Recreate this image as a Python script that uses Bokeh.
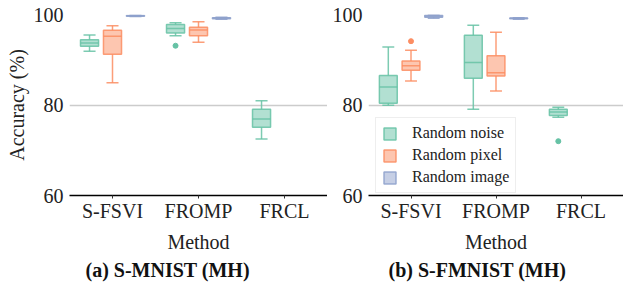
from bokeh.plotting import figure
from bokeh.models import FactorRange, FixedTicker, Range1d, ColumnDataSource, Title
from bokeh.transform import dodge
from bokeh.layouts import row
from bokeh.embed import file_html
from bokeh.resources import INLINE

FONT = "'Liberation Serif', serif"

methods = ["S-FSVI", "FROMP", "FRCL"]
hues = ["Random noise", "Random pixel", "Random image"]
colors = ["#66c2a5", "#fc8d62", "#8da0cb"]
y_ticks = [60, 80, 100]

# ---- panel (a) S-MNIST (MH) ----
a_noise_methods = ["S-FSVI", "FROMP", "FRCL"]
a_noise_lo = [91.9, 95.3, 72.5]
a_noise_q1 = [93.0, 95.9, 75.1]
a_noise_med = [93.7, 96.9, 76.9]
a_noise_q3 = [94.4, 97.8, 79.05]
a_noise_hi = [95.45, 98.2, 80.95]
a_noise_out_m = ["FROMP"]
a_noise_out_v = [93.1]

a_pixel_methods = ["S-FSVI", "FROMP"]
a_pixel_lo = [84.9, 93.85]
a_pixel_q1 = [91.2, 95.3]
a_pixel_med = [95.2, 96.6]
a_pixel_q3 = [96.5, 97.2]
a_pixel_hi = [97.5, 98.4]
a_pixel_out_m = []
a_pixel_out_v = []

a_image_methods = ["S-FSVI", "FROMP"]
a_image_lo = [99.55, 98.95]
a_image_q1 = [99.6, 99.05]
a_image_med = [99.7, 99.2]
a_image_q3 = [99.8, 99.3]
a_image_hi = [99.85, 99.4]
a_image_out_m = []
a_image_out_v = []

# ---- panel (b) S-FMNIST (MH) ----
b_noise_methods = ["S-FSVI", "FROMP", "FRCL"]
b_noise_lo = [79.95, 79.05, 77.3]
b_noise_q1 = [80.4, 85.9, 77.7]
b_noise_med = [84.0, 89.4, 78.45]
b_noise_q3 = [86.5, 95.4, 79.05]
b_noise_hi = [92.8, 97.65, 79.5]
b_noise_out_m = ["FRCL"]
b_noise_out_v = [72.0]

b_pixel_methods = ["S-FSVI", "FROMP"]
b_pixel_lo = [85.3, 83.1]
b_pixel_q1 = [87.7, 86.4]
b_pixel_med = [88.7, 87.1]
b_pixel_q3 = [89.7, 90.9]
b_pixel_hi = [92.1, 96.1]
b_pixel_out_m = ["S-FSVI"]
b_pixel_out_v = [94.1]

b_image_methods = ["S-FSVI", "FROMP"]
b_image_lo = [99.15, 98.95]
b_image_q1 = [99.4, 99.05]
b_image_med = [99.55, 99.15]
b_image_q3 = [99.85, 99.25]
b_image_hi = [99.9, 99.3]
b_image_out_m = []
b_image_out_v = []

panel_a = [
    (a_noise_methods, a_noise_lo, a_noise_q1, a_noise_med, a_noise_q3, a_noise_hi, a_noise_out_m, a_noise_out_v),
    (a_pixel_methods, a_pixel_lo, a_pixel_q1, a_pixel_med, a_pixel_q3, a_pixel_hi, a_pixel_out_m, a_pixel_out_v),
    (a_image_methods, a_image_lo, a_image_q1, a_image_med, a_image_q3, a_image_hi, a_image_out_m, a_image_out_v),
]
panel_b = [
    (b_noise_methods, b_noise_lo, b_noise_q1, b_noise_med, b_noise_q3, b_noise_hi, b_noise_out_m, b_noise_out_v),
    (b_pixel_methods, b_pixel_lo, b_pixel_q1, b_pixel_med, b_pixel_q3, b_pixel_hi, b_pixel_out_m, b_pixel_out_v),
    (b_image_methods, b_image_lo, b_image_q1, b_image_med, b_image_q3, b_image_hi, b_image_out_m, b_image_out_v),
]

OFFSETS = [-0.267, 0.0, 0.267]
BOX_W = 0.21
CAP_W = 0.14


def make_panel(data, caption, width, left_border, ylabel, legend, cap_offset):
    p = figure(x_range=FactorRange(*methods), y_range=Range1d(60, 100),
               width=width, height=282,
               output_backend="svg", toolbar_location=None,
               min_border_left=left_border, min_border_right=0,
               min_border_top=14, min_border_bottom=0)
    p.x_range.range_padding = 0
    p.outline_line_color = None
    p.xgrid.grid_line_color = None
    p.ygrid.grid_line_color = "#cccccc"
    p.ygrid.grid_line_width = 1.4
    p.yaxis.ticker = FixedTicker(ticks=y_ticks)
    p.yaxis.axis_line_color = None
    p.yaxis.major_tick_line_color = None
    p.yaxis.minor_tick_line_color = None
    p.yaxis.major_tick_out = 0
    p.yaxis.major_tick_in = 0
    p.yaxis.major_label_standoff = 6
    p.xaxis.axis_line_color = "black"
    p.xaxis.axis_line_width = 1.3
    p.xaxis.major_tick_line_color = "#333333"
    p.xaxis.major_tick_out = 3
    p.xaxis.major_tick_in = 0
    p.xaxis.major_label_standoff = 1
    for ax in (p.xaxis, p.yaxis):
        ax.major_label_text_font = FONT
        ax.major_label_text_font_size = "20px"
        ax.major_label_text_color = "#222222"
        ax.axis_label_text_font = FONT
        ax.axis_label_text_font_size = "20px"
        ax.axis_label_text_font_style = "normal"
        ax.axis_label_text_color = "#222222"
    p.xaxis.axis_label = "Method"
    p.xaxis.axis_label_standoff = 6
    if ylabel:
        p.yaxis.axis_label = "Accuracy (%)"
        p.yaxis.axis_label_standoff = 3

    for (ms, lo, q1, med, q3, hi, om, ov), off, col, hue in zip(data, OFFSETS, colors, hues):
        src = ColumnDataSource(dict(m=ms, lo=lo, q1=q1, med=med, q3=q3, hi=hi))
        xc = dodge("m", off, range=p.x_range)
        # whiskers
        p.segment(x0=xc, y0="lo", x1=xc, y1="q1", source=src, line_color=col, line_width=1.5, line_alpha=0.85)
        p.segment(x0=xc, y0="q3", x1=xc, y1="hi", source=src, line_color=col, line_width=1.5, line_alpha=0.85)
        # caps
        p.segment(x0=dodge("m", off - CAP_W / 2, range=p.x_range), y0="lo",
                  x1=dodge("m", off + CAP_W / 2, range=p.x_range), y1="lo",
                  source=src, line_color=col, line_width=1.5, line_alpha=0.85)
        p.segment(x0=dodge("m", off - CAP_W / 2, range=p.x_range), y0="hi",
                  x1=dodge("m", off + CAP_W / 2, range=p.x_range), y1="hi",
                  source=src, line_color=col, line_width=1.5, line_alpha=0.85)
        # box
        kw = dict(legend_label=hue) if legend else {}
        p.vbar(x=xc, bottom="q1", top="q3", width=BOX_W, source=src,
               fill_color=col, fill_alpha=0.5, line_color=col, line_width=1.5, line_alpha=0.85, **kw)
        # median
        p.segment(x0=dodge("m", off - BOX_W / 2, range=p.x_range), y0="med",
                  x1=dodge("m", off + BOX_W / 2, range=p.x_range), y1="med",
                  source=src, line_color=col, line_width=1.5, line_alpha=0.85)
        if om:
            osrc = ColumnDataSource(dict(m=om, v=ov))
            p.scatter(x=dodge("m", off, range=p.x_range), y="v", source=osrc, size=5,
                      fill_color=col, line_color=col)

    if legend:
        lg = p.legend[0]
        lg.location = (7, 2)
        lg.label_text_font = FONT
        lg.label_text_font_size = "16px"
        lg.label_text_color = "#222222"
        lg.glyph_width = 15
        lg.glyph_height = 15
        lg.label_height = 16
        lg.spacing = 4
        lg.padding = 6
        lg.label_standoff = 15
        lg.border_line_color = "#dddddd"
        lg.border_line_width = 1.2
        lg.background_fill_alpha = 0.9
        lg.margin = 0

    p.add_layout(Title(text=caption, align="left", offset=cap_offset, text_font=FONT,
                       text_font_size="20px", text_font_style="bold", text_color="#111111",
                       standoff=3), "below")
    return p


pa = make_panel(panel_a, "(a) S-MNIST (MH)", 327, 69, True, False, 16)
pb = make_panel(panel_b, "(b) S-FMNIST (MH)", 296, 41, False, True, 20)

layout = row(pa, pb, spacing=0)
open("out.html", "w").write(file_html(layout, INLINE))
